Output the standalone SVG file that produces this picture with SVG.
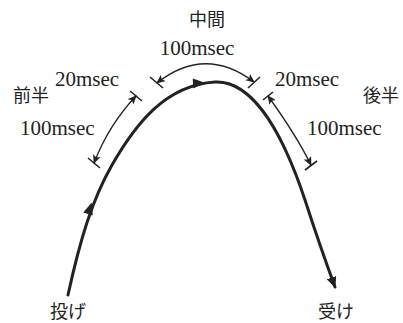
<svg xmlns="http://www.w3.org/2000/svg" width="403" height="323" viewBox="0 0 403 323">
<style>
.main{fill:none;stroke:#222;stroke-width:3;stroke-linecap:round}
.dim{fill:none;stroke:#222;stroke-width:1.3}
.tick{stroke:#222;stroke-width:1.6}
.num{font-family:"Liberation Serif",serif;font-size:21px;fill:#222}
.jp{font-family:"Noto Sans CJK JP",sans-serif;font-size:18px;fill:#222}
.ah{fill:#222}
</style>
<defs>
<marker id="big" markerWidth="12" markerHeight="10" refX="10" refY="5" orient="auto" markerUnits="userSpaceOnUse">
<path d="M0,0 L11,5 L0,10 Z" fill="#222"/>
</marker>
<marker id="sm" markerWidth="9" markerHeight="8" refX="8" refY="4" orient="auto-start-reverse" markerUnits="userSpaceOnUse">
<path d="M0,0 L9,4 L0,8 L2,4 Z" fill="#222"/>
</marker>
</defs>
<g id="connectors">
<path id="trajectory" class="main" d="M68,295 C80,240 92,200 112,165 C135,125 165,85 215,82 C255,80 285,140 305,200 C318,240 328,268 335,287" marker-end="url(#big)"/>
<path class="ah" d="M0,-5 L12,0 L0,5 Z" transform="translate(88,214) rotate(-72)"/>
<path class="ah" d="M0,-5 L12,0 L0,5 Z" transform="translate(193,83.5) rotate(-3)"/>
<path id="dim-left" class="dim" d="M136,96 Q109,124.5 94,163" marker-start="url(#sm)" marker-end="url(#sm)"/>
<line class="tick" x1="130" y1="91" x2="142" y2="101"/>
<line class="tick" x1="88" y1="158" x2="100" y2="168"/>
<path id="dim-mid" class="dim" d="M157,83 Q205,45 254,82" marker-start="url(#sm)" marker-end="url(#sm)"/>
<line class="tick" x1="150" y1="77" x2="163" y2="88"/>
<line class="tick" x1="248" y1="88" x2="260" y2="77"/>
<path id="dim-right" class="dim" d="M268,96 Q296.5,135.5 311,165" marker-start="url(#sm)" marker-end="url(#sm)"/>
<line class="tick" x1="263" y1="100" x2="273" y2="92"/>
<line class="tick" x1="305" y1="170" x2="317" y2="161"/>
</g>
<g id="label-mid">
<text class="jp" x="207" y="26" text-anchor="middle">中間</text>
<text class="num" x="197" y="55" text-anchor="middle">100msec</text>
</g>
<g id="label-front">
<text class="jp" x="13" y="102">前半</text>
<text class="num" x="55" y="86">20msec</text>
<text class="num" x="20" y="135">100msec</text>
</g>
<g id="label-back">
<text class="jp" x="363" y="102">後半</text>
<text class="num" x="275" y="86">20msec</text>
<text class="num" x="307" y="135">100msec</text>
</g>
<g id="throw"><text class="jp" x="50" y="318">投げ</text></g>
<g id="catch"><text class="jp" x="318" y="318">受け</text></g>
</svg>
